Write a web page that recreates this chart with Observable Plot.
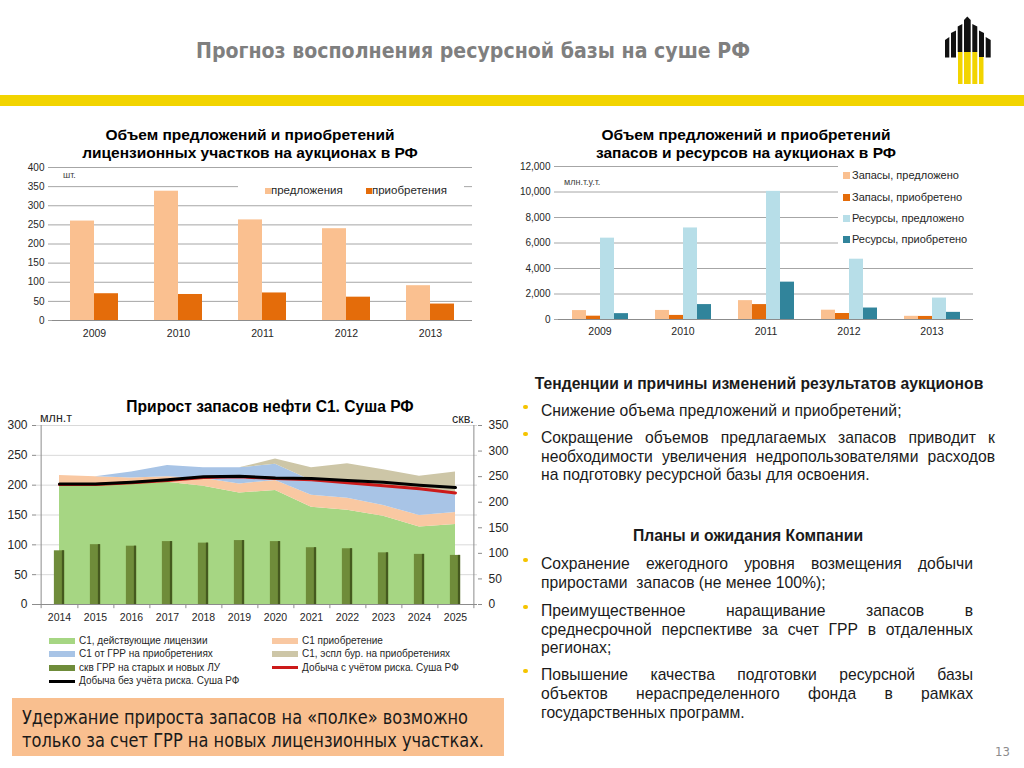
<!DOCTYPE html>
<html lang="ru">
<head>
<meta charset="utf-8">
<script src="https://cdn.jsdelivr.net/npm/d3@7"></script>
<script src="https://cdn.jsdelivr.net/npm/@observablehq/plot@0.6"></script>
<style>
html,body{margin:0;padding:0;background:#fff;}
#page{position:relative;width:1024px;height:768px;overflow:hidden;background:#fff;font-family:"Liberation Sans",Arial,Helvetica,sans-serif;color:#1a1a1a;}
#page svg{overflow:visible;}
.t{position:absolute;white-space:pre;line-height:1;}
.just{position:absolute;display:flex;justify-content:space-between;line-height:1;white-space:nowrap;}
</style>
</head>
<body>
<div id="page"></div>
<script>
const FONT = '"Liberation Sans", Arial, Helvetica, sans-serif';
const NARROW = '"Liberation Sans Narrow", "Arial Narrow", "DejaVu Sans Condensed", "Liberation Sans", sans-serif';

// ---------- texts ----------
const pageTitle = "Прогноз восполнения ресурсной базы на суше РФ";
const chart1Title = ["Объем предложений и приобретений", "лицензионных участков на аукционах в РФ"];
const chart1Unit = "шт.";
const chart2Title = ["Объем предложений и приобретений", "запасов и ресурсов на аукционах в РФ"];
const chart2Unit = "млн.т.у.т.";
const chart3Title = "Прирост запасов нефти С1. Суша РФ";
const chart3UnitLeft = "млн.т";
const chart3UnitRight = "скв.";
const calloutLines = ["Удержание прироста запасов на «полке» возможно", "только за счет ГРР на новых лицензионных участках."];
const pageNumber = "13";
const trendsTitle = "Тенденции и причины изменений результатов аукционов";
const trendsBullets = [
  ["Снижение объема предложений и приобретений;"],
  ["Сокращение объемов предлагаемых запасов приводит к", "необходимости увеличения недропользователями расходов", "на подготовку ресурсной базы для освоения."]
];
const plansTitle = "Планы и ожидания Компании";
const plansBullets = [
  ["Сохранение ежегодного уровня возмещения добычи", "приростами  запасов (не менее 100%);"],
  ["Преимущественное наращивание запасов в", "среднесрочной перспективе за счет ГРР в отдаленных", "регионах;"],
  ["Повышение качества подготовки ресурсной базы", "объектов нераспределенного фонда в рамках", "государственных программ."]
];

// ---------- chart 1 data ----------
const years1 = [2009, 2010, 2011, 2012, 2013];
const series1 = ["предложения", "приобретения"];
const offers1 = [260, 338, 263, 240, 91];
const acquired1 = [70, 68, 72, 61, 43];
const yTicks1 = [0, 50, 100, 150, 200, 250, 300, 350, 400];

// ---------- chart 2 data ----------
const years2 = [2009, 2010, 2011, 2012, 2013];
const series2 = ["Запасы, предложено", "Запасы, приобретено", "Ресурсы, предложено", "Ресурсы, приобретено"];
const reservesOffered = [700, 710, 1480, 730, 250];
const reservesAcquired = [260, 320, 1170, 470, 240];
const resourcesOffered = [6380, 7180, 10050, 4730, 1680];
const resourcesAcquired = [460, 1170, 2930, 900, 560];
const yTicks2 = [0, 2000, 4000, 6000, 8000, 10000, 12000];

// ---------- chart 3 data ----------
const years3 = [2014, 2015, 2016, 2017, 2018, 2019, 2020, 2021, 2022, 2023, 2024, 2025];
const areaSeries3 = ["С1, действующие лицензии", "С1 приобретение", "С1 от ГРР на приобретениях", "С1, эспл бур. на приобретениях"];
const c1Active      = [200, 201, 202, 205, 198, 187, 191, 163, 158, 148, 130, 134];
const c1Acquisition = [16, 13, 10, 9, 13, 15, 17, 20, 20, 18, 19, 20];
const c1Exploration = [0, 0, 10, 19, 18, 27, 27, 25, 24, 32, 43, 32];
const c1Drilling    = [0, 0, 0, 0, 0, 0, 9, 21, 34, 28, 23, 36];
const wellsSeries = "скв ГРР на старых и новых ЛУ";
const wells = [105, 117, 114, 123, 120, 125, 123, 111, 109, 101, 98, 96];
const lineSeries3 = ["Добыча с учётом риска. Суша РФ", "Добыча без учёта риска. Суша РФ"];
const prodRisk   = [201, 201, 204, 208, 213, 214, 211, 209, 204, 199, 194, 187];
const prodNoRisk = [202, 202, 205, 209, 214, 215, 212, 211, 208, 205, 200, 196];
const yTicksLeft3 = [0, 50, 100, 150, 200, 250, 300];
const yTicksRight3 = [0, 50, 100, 150, 200, 250, 300, 350];

// ---------- colours ----------
const colors1 = ["#fac090", "#e46c0a"];
const colors2 = ["#fac090", "#e46c0a", "#b7dee8", "#31849b"];
const colorsArea3 = ["#a6d683", "#f9c8a2", "#a8c4e6", "#cdc6a7"];
const colorsLine3 = ["#cc1a1a", "#000000"];
const wellColor = "#6f8c3a", wellDark = "#45591f";

const page = document.getElementById("page");
const SVGNS = "http://www.w3.org/2000/svg";
const yearFmt = d => String(d);

function txt(str, x, y, style = {}, anchor = "start") {
  const d = document.createElement("div");
  d.className = "t";
  d.textContent = str;
  d.style.left = x + "px";
  d.style.top = y + "px";
  d.style.transform = anchor === "middle" ? "translate(-50%,-50%)" : "translate(0,-50%)";
  Object.assign(d.style, style);
  page.appendChild(d);
  return d;
}
function box(x, y, w, h, bg) {
  const d = document.createElement("div");
  Object.assign(d.style, {position: "absolute", left: x + "px", top: y + "px", width: w + "px", height: h + "px", background: bg});
  page.appendChild(d);
  return d;
}
function placeChart(svg, x, y) {
  svg.style.position = "absolute";
  svg.style.left = x + "px";
  svg.style.top = y + "px";
  page.appendChild(svg);
}

// ---------- decorative svg: title, band, logo, callout ----------
const deco = document.createElementNS(SVGNS, "svg");
deco.setAttribute("width", 1024); deco.setAttribute("height", 768);
Object.assign(deco.style, {position: "absolute", left: "0px", top: "0px"});
deco.innerHTML = `
  <rect x="0" y="95" width="1024" height="11" fill="#f2d400"/>
  <text x="196" y="57.5" font-family='${NARROW}' font-weight="bold" font-size="21" fill="#7f7f7f" textLength="554" lengthAdjust="spacingAndGlyphs">${pageTitle}</text>
  <g>
    <polygon points="958,52 962.5,52 962.5,84 958,84" fill="#f2d400"/>
    <polygon points="964,52 970.7,52 970.7,84 964,84" fill="#f2d400"/>
    <polygon points="972.3,52 977.3,52 977.3,84 972.3,84" fill="#f2d400"/>
    <polygon points="979,57 983.5,57 983.5,84 979,84" fill="#f2d400"/>
    <polygon points="945,40 949.3,37 949.3,57.5 945,57.5" fill="#111"/>
    <polygon points="951,33 956,30.5 956,57.5 951,57.5" fill="#111"/>
    <polygon points="957.7,26.5 962.3,24 962.3,52 957.7,52" fill="#111"/>
    <polygon points="964,20 967.3,16.5 970.7,20 970.7,52 964,52" fill="#111"/>
    <polygon points="972.3,24 977.3,26.5 977.3,52 972.3,52" fill="#111"/>
    <polygon points="979,30.5 984,33 984,57 979,57" fill="#111"/>
    <polygon points="985.7,37 990.7,40 990.7,57.5 985.7,57.5" fill="#111"/>
  </g>
  <rect x="12" y="698" width="492" height="58" fill="#f9bf8f"/>
  <text x="22" y="724" font-family='${NARROW}' font-size="19" fill="#1a1a1a" textLength="446" lengthAdjust="spacingAndGlyphs">${calloutLines[0]}</text>
  <text x="22" y="747" font-family='${NARROW}' font-size="19" fill="#1a1a1a" textLength="462" lengthAdjust="spacingAndGlyphs">${calloutLines[1]}</text>
  <text x="995" y="756" font-family='${NARROW}' font-size="13" fill="#8c8c8c">${pageNumber}</text>
`;
page.appendChild(deco);

// ---------- chart 1 ----------
const rows1 = years1.flatMap((year, i) => [
  {year, series: series1[0], value: offers1[i]},
  {year, series: series1[1], value: acquired1[i]}
]);
const chart1 = Plot.plot({
  width: 480, height: 186,
  marginLeft: 52, marginRight: 8, marginTop: 7, marginBottom: 26,
  style: {fontFamily: FONT, fontSize: "10.5px", color: "#262626", background: "transparent"},
  fx: {domain: years1, padding: 0, label: null, axis: "bottom", tickSize: 0, tickPadding: 9, tickFormat: yearFmt},
  x: {domain: series1, axis: null, paddingInner: 0, paddingOuter: 0.745},
  y: {domain: [0, 400], axis: null},
  color: {domain: series1, range: colors1},
  marks: [
    Plot.gridY(yTicks1.slice(1), {stroke: "#a6a6a6", strokeOpacity: 1}),
    Plot.axisY(yTicks1, {anchor: "left", tickSize: 4, tickPadding: 4, label: null, stroke: "#a6a6a6", fill: "#262626", fontSize: 10}),
    Plot.barY(rows1, {fx: "year", x: "series", y: "value", fill: "series"}),
    Plot.ruleY([0], {stroke: "#8c8c8c"})
  ]
});
placeChart(chart1, 0, 160);
txt(chart1Unit, 63, 175, {fontSize: "9px", color: "#404040"});
box(238, 177, 226, 26, "#fff");
series1.forEach((s, i) => {
  const sx = [265, 366][i];
  box(sx, 188, 6, 6, colors1[i]);
  txt(s, sx + 6, 191, {fontSize: "11.5px", color: "#262626"});
});
chart1Title.forEach((l, i) => txt(l, 250, 135 + i * 18, {fontSize: "15.5px", fontWeight: "bold", color: "#000"}, "middle"));

// ---------- chart 2 ----------
const vals2 = [reservesOffered, reservesAcquired, resourcesOffered, resourcesAcquired];
const rows2 = years2.flatMap((year, i) => series2.map((s, k) => ({year, series: s, value: vals2[k][i]})));
const chart2 = Plot.plot({
  width: 490, height: 185,
  marginLeft: 56, marginRight: 15, marginTop: 6, marginBottom: 26,
  style: {fontFamily: FONT, fontSize: "10.5px", color: "#262626", background: "transparent"},
  fx: {domain: years2, padding: 0, label: null, axis: "bottom", tickSize: 0, tickPadding: 8, tickFormat: yearFmt},
  x: {domain: series2, axis: null, paddingInner: 0, paddingOuter: 0.79},
  y: {domain: [0, 12000], axis: null},
  color: {domain: series2, range: colors2},
  marks: [
    Plot.gridY(yTicks2.slice(1), {stroke: "#a6a6a6", strokeOpacity: 1}),
    Plot.axisY(yTicks2, {anchor: "left", tickSize: 4, tickPadding: 4, label: null, tickFormat: d3.format(","), stroke: "#a6a6a6", fill: "#262626", fontSize: 10}),
    Plot.barY(rows2, {fx: "year", x: "series", y: "value", fill: "series"}),
    Plot.ruleY([0], {stroke: "#8c8c8c"})
  ]
});
placeChart(chart2, 500, 160);
txt(chart2Unit, 564, 182, {fontSize: "9px", color: "#404040"});
box(838, 162, 137, 88, "#fff");
series2.forEach((s, i) => {
  const yy = [175, 197, 218, 239][i];
  box(843, yy - 3, 7, 7, colors2[i]);
  txt(s, 852, yy, {fontSize: "11px", color: "#262626"});
});
chart2Title.forEach((l, i) => txt(l, 746, 135 + i * 18, {fontSize: "15.5px", fontWeight: "bold", color: "#000"}, "middle"));

// ---------- chart 3 ----------
const toLeft = v => v * 300 / 350;
const fromLeft = v => Math.round(v * 350 / 300);
const areaVals3 = [c1Active, c1Acquisition, c1Exploration, c1Drilling];
const rows3 = areaSeries3.flatMap((s, k) => years3.map((year, i) => ({year, series: s, value: areaVals3[k][i]})));
const wellRows = years3.map((year, i) => ({year, value: wells[i]}));
const lineVals3 = [prodRisk, prodNoRisk];
const lineRows = lineSeries3.flatMap((s, k) => years3.map((year, i) => ({year, series: s, value: lineVals3[k][i]})));
const W3 = 520, ML3 = 36, MR3 = 43;
const half = (W3 - ML3 - MR3) / years3.length / 2;
const chart3 = Plot.plot({
  width: W3, height: 230,
  marginLeft: ML3, marginRight: MR3, marginTop: 25, marginBottom: 26,
  style: {fontFamily: FONT, fontSize: "12px", color: "#262626", background: "transparent"},
  x: {domain: years3, padding: 0, axis: null},
  y: {domain: [0, 300], axis: null},
  color: {domain: [...areaSeries3, ...lineSeries3], range: [...colorsArea3, ...colorsLine3]},
  marks: [
    Plot.gridY(yTicksLeft3.slice(1), {stroke: "#d9d9d9", strokeOpacity: 1}),
    Plot.areaY(rows3, {x: "year", y: "value", fill: "series"}),
    Plot.barY(wellRows, {x: "year", y: d => toLeft(d.value), fill: wellColor, insetLeft: half - 5.5, insetRight: half - 5.5}),
    Plot.barY(wellRows, {x: "year", y: d => toLeft(d.value), fill: wellDark, insetLeft: half + 2.5, insetRight: half - 5.5}),
    Plot.lineY(lineRows, {x: "year", y: "value", z: "series", stroke: "series", strokeWidth: 3}),
    Plot.ruleY([0], {stroke: "#8c8c8c"}),
    Plot.ruleX([years3[0]], {dx: -half, stroke: "#8c8c8c"}),
    Plot.ruleX([years3[years3.length - 1]], {dx: half, stroke: "#8c8c8c"}),
    Plot.ruleX(years3, {x: d => d, dx: half, y1: 0, y2: -7, stroke: "#8c8c8c"}),
    Plot.ruleX([years3[0]], {dx: -half, y1: 0, y2: -7, stroke: "#8c8c8c"}),
    Plot.axisY(yTicksLeft3, {anchor: "left", tickSize: 4, tickPadding: 5, label: null, stroke: "#8c8c8c", fill: "#262626", fontSize: 12}),
    Plot.axisY(yTicksRight3.map(toLeft), {anchor: "right", tickSize: 4, tickPadding: 7, label: null, tickFormat: fromLeft, stroke: "#8c8c8c", fill: "#262626", fontSize: 12}),
    Plot.axisX(years3, {anchor: "bottom", tickSize: 0, tickPadding: 9, label: null, tickFormat: yearFmt, fill: "#262626", fontSize: 10.5})
  ]
});
placeChart(chart3, 0, 400);
txt(chart3Title, 270, 407, {fontSize: "15.6px", fontWeight: "bold", color: "#000"}, "middle");
txt(chart3UnitLeft, 40, 418, {fontSize: "12.5px", color: "#262626"});
txt(chart3UnitRight, 452, 419, {fontSize: "12.5px", color: "#262626"});

// legend chart 3
const legend3 = [
  {label: areaSeries3[0], color: colorsArea3[0], kind: "area", col: 0, row: 0},
  {label: areaSeries3[2], color: colorsArea3[2], kind: "area", col: 0, row: 1},
  {label: wellsSeries, color: wellColor, kind: "area", col: 0, row: 2},
  {label: lineSeries3[1], color: colorsLine3[1], kind: "line", col: 0, row: 3},
  {label: areaSeries3[1], color: colorsArea3[1], kind: "area", col: 1, row: 0},
  {label: areaSeries3[3], color: colorsArea3[3], kind: "area", col: 1, row: 1},
  {label: lineSeries3[0], color: colorsLine3[0], kind: "line", col: 1, row: 2}
];
legend3.forEach(it => {
  const sx = [49, 272][it.col];
  const yy = 641 + it.row * 13.4;
  const h = it.kind === "line" ? 3 : 6;
  box(sx, yy - h / 2, 26, h, it.color);
  txt(it.label, sx + 30, yy, {fontSize: "10px", color: "#262626"});
});

// ---------- right-side text ----------
const TL = 541;
const BODY = "15.7px";
function header(str, cx, y) {
  txt(str, cx, y, {fontSize: "15.7px", fontWeight: "bold", color: "#1a1a1a"}, "middle");
}
function bullets(list, ys, right) {
  let n = 0;
  list.forEach(lines => {
    lines.forEach((line, j) => {
      const y = ys[n++];
      if (j === 0) {
        const dot = document.createElement("div");
        Object.assign(dot.style, {position: "absolute", left: "523px", top: (y - 6.5) + "px", width: "4.5px", height: "4.5px", borderRadius: "50%", background: "#f5c400"});
        page.appendChild(dot);
      }
      if (j < lines.length - 1) {
        const d = document.createElement("div");
        d.className = "just";
        Object.assign(d.style, {left: TL + "px", top: (y - 8) + "px", width: (right - TL) + "px", fontSize: BODY, color: "#1a1a1a"});
        line.split(/\s+/).forEach(w => { const s = document.createElement("span"); s.textContent = w; d.appendChild(s); });
        page.appendChild(d);
      } else {
        txt(line, TL, y, {fontSize: BODY, color: "#1a1a1a"});
      }
    });
  });
}
header(trendsTitle, 759, 384);
bullets(trendsBullets, [411, 438, 456.5, 475], 995);
header(plansTitle, 748, 536);
bullets(plansBullets, [564, 583, 611, 629.5, 648, 675, 693.5, 713], 973);
</script>
</body>
</html>
